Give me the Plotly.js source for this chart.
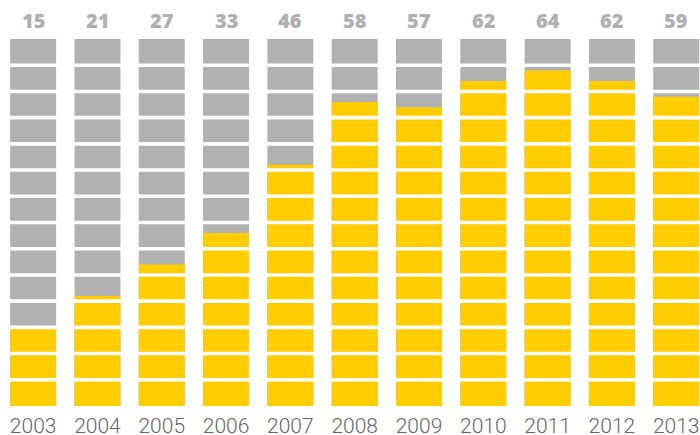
<!DOCTYPE html>
<html>
<head>
<meta charset="utf-8">
<script src="https://cdn.plot.ly/plotly-3.0.1.min.js"></script>
<style>html,body{margin:0;padding:0;background:#fff;}#chart{width:700px;height:435px;}</style>
</head>
<body>
<div id="chart"></div>
<script>
var years = ['2003','2004','2005','2006','2007','2008','2009','2010','2011','2012','2013'];
var values = [15, 21, 27, 33, 46, 58, 57, 62, 64, 62, 59];
var capacity = 70;
var segment = 5;

var greyTrace = {
  type: 'bar', x: years, y: years.map(function(){return capacity;}),
  marker: {color: '#B1B1B2', line: {width: 0}}, width: 0.715,
  hoverinfo: 'skip'
};
var yellowTrace = {
  type: 'bar', x: years, y: values,
  marker: {color: '#FFCD00', line: {width: 0}}, width: 0.715,
  hoverinfo: 'skip'
};

var shapes = [];
for (var v = segment; v < capacity; v += segment) {
  shapes.push({type: 'line', xref: 'paper', x0: 0, x1: 1, yref: 'y', y0: v, y1: v,
    line: {color: '#ffffff', width: 3.6}, layer: 'above'});
}

// category axes read numeric-looking strings as positions, so place labels by category index
var annotations = years.map(function(yr, i){
  return {x: i, y: 1, xref: 'x', yref: 'paper', text: String(values[i]),
    showarrow: false, yanchor: 'middle', yshift: 19,
    font: {family: 'Open Sans, sans-serif', size: 20, color: '#B0B0B0', weight: 800}};
});

var layout = {
  width: 700, height: 435,
  margin: {l: 1, r: 0, t: 39, b: 29, pad: 0},
  paper_bgcolor: '#ffffff', plot_bgcolor: '#ffffff',
  barmode: 'overlay', showlegend: false,
  xaxis: {type: 'category', range: [-0.5, 10.37], showgrid: false, zeroline: false,
    showline: false, ticks: 'outside', ticklen: 1, tickcolor: 'rgba(0,0,0,0)',
    tickfont: {family: 'Roboto, sans-serif', size: 21, color: '#666666', weight: 300}},
  yaxis: {range: [0, capacity], showgrid: false, zeroline: false, showline: false,
    showticklabels: false, ticks: ''},
  shapes: shapes, annotations: annotations
};

Plotly.newPlot('chart', [greyTrace, yellowTrace], layout, {displayModeBar: false, staticPlot: true});
</script>
</body>
</html>
